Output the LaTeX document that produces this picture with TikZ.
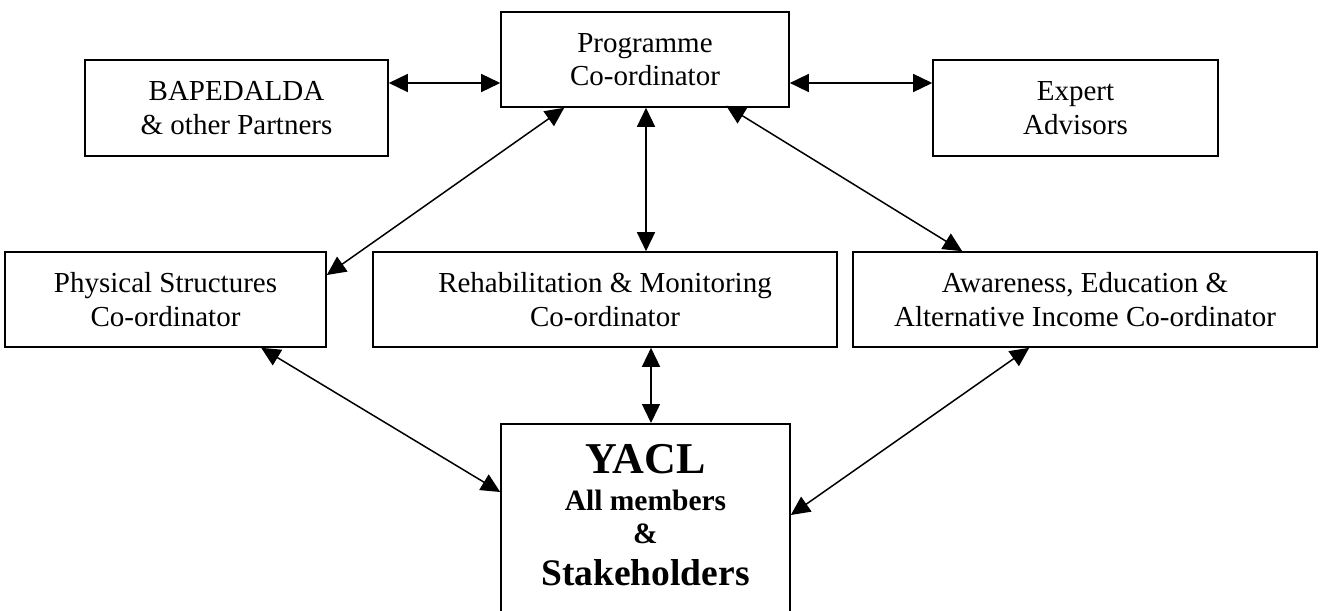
\documentclass[tikz,border=0pt]{standalone}
\usepackage{fontspec}
\setmainfont{Liberation Serif}
\usetikzlibrary{arrows.meta,calc}
\begin{document}
\begin{tikzpicture}[x=1pt,y=-1pt,
  box/.style={draw,line width=1.6pt,rectangle,inner sep=0pt,align=center,
    font=\fontsize{29}{33.5}\selectfont},
  link/.style={line width=1.5pt,{Triangle[length=19pt,width=18pt]}-{Triangle[length=19pt,width=18pt]}},
  ytxt/.style={anchor=base,inner sep=0pt,font=\bfseries}]
\useasboundingbox (0,0) rectangle (1321,610);
\node[box,minimum width=303pt,minimum height=96pt] (bap) at (236.5,108) {BAPEDALDA\\\& other Partners};
\node[box,minimum width=288pt,minimum height=95pt] (prog) at (645,59.5) {Programme\\Co-ordinator};
\node[box,minimum width=285pt,minimum height=96pt] (exp) at (1075.5,108) {Expert\\Advisors};
\node[box,minimum width=321pt,minimum height=95pt] (phys) at (165.5,299.5) {Physical Structures\\Co-ordinator};
\node[box,minimum width=464pt,minimum height=95pt] (reh) at (605,299.5) {Rehabilitation \& Monitoring\\Co-ordinator};
\node[box,minimum width=464pt,minimum height=95pt] (awa) at (1085,299.5) {Awareness, Education \&\\Alternative Income Co-ordinator};
\node[box,minimum width=289pt,minimum height=240pt,anchor=north] (yacl) at (645.5,423) {};
\node[ytxt,font=\bfseries\fontsize{44}{44}\selectfont] (y1) at (645.5,473) {YACL};
\node[ytxt,font=\bfseries\fontsize{29.5}{29.5}\selectfont] (y2) at (645.5,510) {All members};
\node[ytxt,font=\bfseries\fontsize{29.5}{29.5}\selectfont] (y3) at (645.5,543) {\&};
\node[ytxt,font=\bfseries\fontsize{37.5}{37.5}\selectfont] (y4) at (645.5,585) {Stakeholders};
% top row links
\draw[link] (bap.east |- 0,83) -- (prog.west |- 0,83);
\draw[link] (prog.east |- 0,83) -- (exp.west |- 0,83);
% programme to coordinators
\draw[link] ($(prog.south west)+(64,0)$) -- (phys.east |- 0,275);
\draw[link] (prog.south -| 646,0) -- (reh.north -| 646,0);
\draw[link] ($(prog.south west)+(226,-2)$) -- ($(awa.north west)+(110,0)$);
% coordinators to YACL
\draw[link] ($(phys.south west)+(257,0)$) -- (yacl.west |- 0,492);
\draw[link] (reh.south -| 651,0) -- (yacl.north -| 651,0);
\draw[link] ($(awa.south west)+(177,0)$) -- (yacl.east |- 0,515);
\end{tikzpicture}
\end{document}
